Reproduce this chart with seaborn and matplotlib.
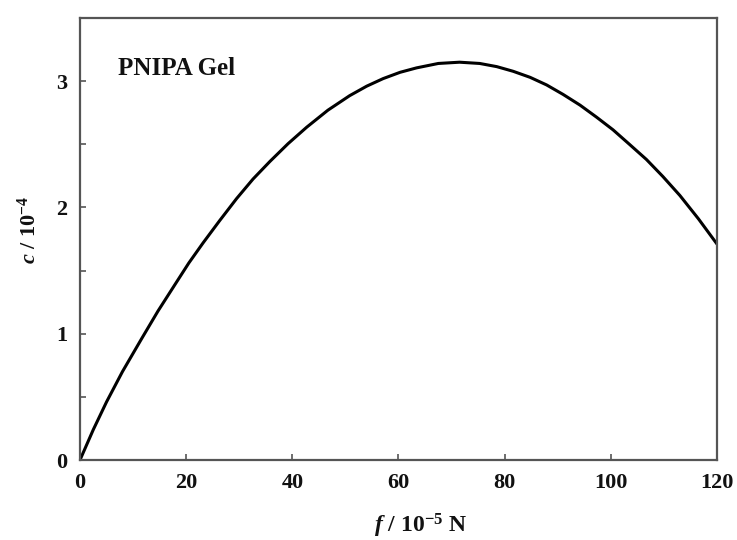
import matplotlib
matplotlib.use("Agg")
import matplotlib.pyplot as plt
import pandas as pd
import seaborn as sns

# Force f (1e-5 N) versus concentration c (1e-4) for the PNIPA gel
force = [0, 2.5, 5.0, 8.0, 11.6, 14.7, 17.9, 20.5, 23.2, 26.3, 29.5, 32.6,
         35.8, 39.2, 42.7, 46.7, 50.8, 54.0, 57.1, 60.3, 63.4, 67.5, 71.5,
         75.3, 78.5, 81.6, 84.8, 87.9, 91.0, 94.2, 97.3, 100.4, 103.5,
         106.7, 109.8, 113.0, 116.5, 120]
conc = [0, 0.24, 0.46, 0.70, 0.96, 1.18, 1.39, 1.56, 1.72, 1.895, 2.07, 2.225,
        2.365, 2.505, 2.635, 2.77, 2.885, 2.96, 3.02, 3.07, 3.105, 3.14, 3.15,
        3.14, 3.115, 3.078, 3.03, 2.97, 2.895, 2.81, 2.715, 2.615, 2.50,
        2.38, 2.245, 2.095, 1.91, 1.71]

x_ticks = [0, 20, 40, 60, 80, 100, 120]
y_ticks = [0, 0.5, 1, 1.5, 2, 2.5, 3]
y_tick_labels = ["0", "", "1", "", "2", "", "3"]

df = pd.DataFrame({"f": force, "c": conc})

sns.set_theme(style="ticks")
plt.rcParams["font.family"] = ["Liberation Serif", "DejaVu Serif"]
plt.rcParams["font.weight"] = "bold"
plt.rcParams["mathtext.fontset"] = "custom"
plt.rcParams["mathtext.rm"] = "Liberation Serif:bold"
plt.rcParams["mathtext.it"] = "Liberation Serif:italic:bold"
plt.rcParams["mathtext.bf"] = "Liberation Serif:bold"

fig = plt.figure(figsize=(7.37, 5.40), dpi=100)
ax = fig.add_axes([80 / 737, 80 / 540, 637 / 737, 442 / 540])

sns.lineplot(data=df, x="f", y="c", ax=ax, color="black", linewidth=2.2,
             sort=False)

ax.set_xlim(0, 120)
ax.set_ylim(0, 3.5)
ax.set_xticks(x_ticks)
ax.set_xticklabels([str(t) for t in x_ticks])
ax.set_yticks(y_ticks)
ax.set_yticklabels(y_tick_labels)

spine_color = "#555555"
for side in ["left", "right", "top", "bottom"]:
    ax.spines[side].set_visible(True)
    ax.spines[side].set_color(spine_color)
    ax.spines[side].set_linewidth(1.6)

ax.tick_params(axis="both", direction="in", length=4, width=1.2,
               color=spine_color, labelsize=16, labelcolor="#111111", pad=9)
for lab in ax.get_xticklabels() + ax.get_yticklabels():
    lab.set_fontweight("bold")

ax.set_xlabel(r"$\mathit{f}$ / 10$^{-5}$ N", fontsize=17, fontweight="bold",
              color="#111111")
ax.xaxis.set_label_coords(0.535, -0.118)
ax.set_ylabel(r"$\mathit{c}$ / 10$^{-4}$", fontsize=16, fontweight="bold",
              color="#111111")
ax.yaxis.set_label_coords(-0.062, 0.52)

ax.text(0.06, 0.871, "PNIPA Gel", transform=ax.transAxes, fontsize=18,
        fontweight="bold", color="#111111", ha="left", va="baseline")

fig.savefig("out.png", dpi=100, facecolor="white")
